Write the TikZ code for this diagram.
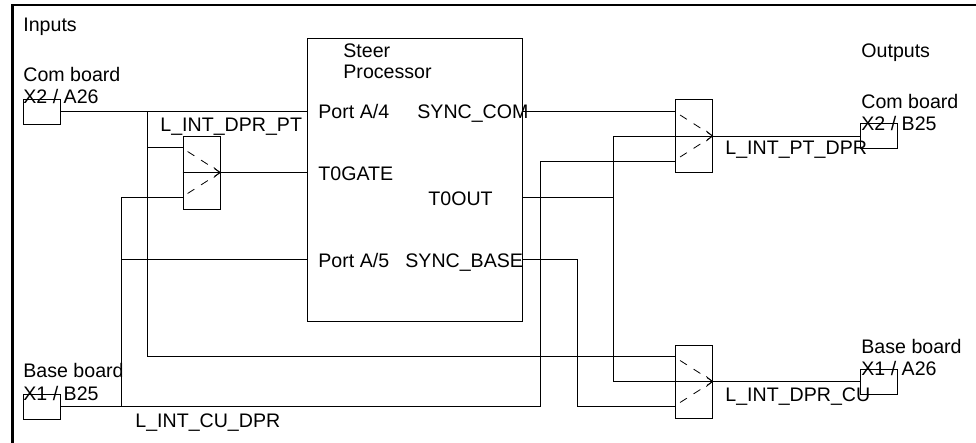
\documentclass[tikz,border=0pt]{standalone}
\usepackage{fontspec}
\setmainfont{Liberation Sans}
\usetikzlibrary{arrows.meta}

\begin{document}
\begin{tikzpicture}[
  x=0.75pt, y=-0.75pt, line width=0.6pt,
  font=\fontsize{14.7}{16}\selectfont,
  lbl/.style      = {anchor=base west, inner sep=0pt},
  conbox/.style   = {draw, minimum width=27.75pt, minimum height=18.75pt,
                     inner sep=0pt},
  muxbox/.style   = {draw, minimum width=27.75pt, minimum height=54.75pt,
                     inner sep=0pt},
  steerbox/.style = {draw, minimum width=161.25pt, minimum height=212.25pt,
                     inner sep=0pt},
  sel/.style      = {-{Straight Barb[length=4.5pt,width=7.5pt]}},
  dsh/.style      = {dash pattern=on 6pt off 6pt},
]
\useasboundingbox (0,0) rectangle (976,443);

% frame
\draw[line width=1.6pt] (12.5,443) -- (12.5,5) -- (976,5);

% boards and processor
\node[conbox]   (comin)   at (41.5,111.5) {};
\node[conbox]   (basein)  at (41.5,406.5) {};
\node[conbox]   (comout)  at (879,136)    {};
\node[conbox]   (baseout) at (879,381.5)  {};
\node[steerbox] (steer)   at (414.5,179.5) {};

% multiplexers
\node[muxbox] (dprpt) at (201.5,172.5) {};
\node[muxbox] (ptdpr) at (694,136)     {};
\node[muxbox] (dprcu) at (694,381.5)   {};

\def\pin{18.75pt}
\foreach \m in {dprpt,ptdpr,dprcu} {
  \coordinate (\m-a) at ([yshift=\pin]\m.west);
  \coordinate (\m-b) at ([yshift=-\pin]\m.west);
  \draw[sel] (\m.west) -- (\m.east);
  \draw[dsh] ([xshift=3.75pt,yshift=15.75pt]\m.west) -- (\m.east);
  \draw[dsh] ([xshift=3.75pt,yshift=-15.75pt]\m.west) -- (\m.east);
}

% texts
\node[lbl] (tin)    at (23,31)   {Inputs};
\node[lbl] (tcom1)  at (23,81)   {Com board};
\node[lbl] (tcom2)  at (23,103)  {X2 / A26};
\node[lbl] (tbase1) at (23,377)  {Base board};
\node[lbl] (tbase2) at (23,400)  {X1 / B25};
\node[lbl] (lpt)    at (160,131) {L\_INT\_DPR\_PT};
\node[lbl] (lcu)    at (135,427) {L\_INT\_CU\_DPR};

\node[lbl] (ts1) at (343,57)  {Steer};
\node[lbl] (ts2) at (343,78)  {Processor};
\node[lbl] (ta4) at (318,118) {Port A/4};
\node[lbl] (tsc) at (417,118) {SYNC\_COM};
\node[lbl] (ttg) at (318,180) {T0GATE};
\node[lbl] (tto) at (428,205) {T0OUT};
\node[lbl] (ta5) at (318,267) {Port A/5};
\node[lbl] (tsb) at (405,267) {SYNC\_BASE};

\node[lbl] (tout)   at (861,57)  {Outputs};
\node[lbl] (tcom3)  at (861,108) {Com board};
\node[lbl] (tcom4)  at (861,130) {X2 / B25};
\node[lbl] (tbase3) at (861,353) {Base board};
\node[lbl] (tbase4) at (861,375) {X1 / A26};
\node[lbl] (ldpr)   at (725,154) {L\_INT\_PT\_DPR};
\node[lbl] (ldcu)   at (725,401) {L\_INT\_DPR\_CU};

% wire ends
\coordinate (cbus)  at (147,111.5);
\coordinate (bbus)  at (121,406.5);
\coordinate (bturn) at (540,406.5);
\coordinate (pa5)   at (307,259);
\coordinate (pto)   at (522,197);
\coordinate (tbus)  at (613,197);
\coordinate (psb)   at (522,259);
\coordinate (sturn) at (577,259);

% com board input
\draw (comin.east) -- (comin.east -| steer.west);
\draw (cbus) |- (dprcu-a);
\draw (cbus |- dprpt-a) -- (dprpt-a);
\draw (dprpt.east) -- (dprpt.east -| steer.west);

% base board input
\draw (basein.east) -- (bturn) |- (ptdpr-b);
\draw (dprpt-b) -| (bbus);
\draw (bbus |- pa5) -- (pa5);

% processor outputs
\draw (steer.east |- ptdpr-a) -- (ptdpr-a);
\draw (pto) -- (tbus);
\draw (tbus |- ptdpr.west) -- (tbus |- dprcu.west);
\draw (tbus |- ptdpr.west) -- (ptdpr.west);
\draw (tbus |- dprcu.west) -- (dprcu.west);
\draw (psb) -- (sturn) |- (dprcu-b);

% to output boards
\draw (ptdpr.east) -- (comout.west);
\draw (dprcu.east) -- (baseout.west);

\end{tikzpicture}
\end{document}
